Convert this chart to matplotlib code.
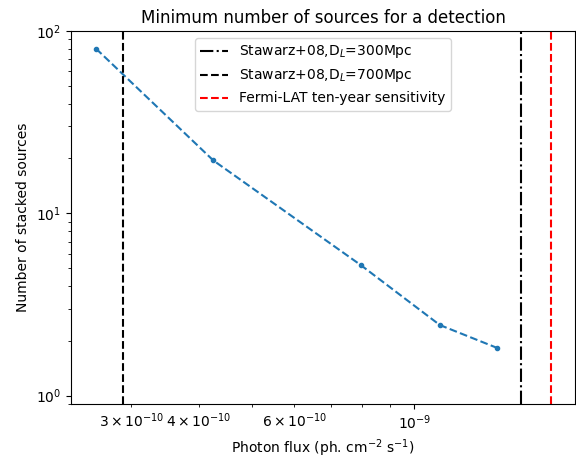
import numpy as np
import matplotlib.pyplot as plt

# data
flux = [2.58e-10, 4.25e-10, 7.96e-10, 1.114e-9, 1.42e-9]
n_sources = [80, 19.5, 5.2, 2.44, 1.83]

stawarz_300 = 1.573e-9
stawarz_700 = 2.89e-10
fermi_10yr = 1.79e-9

fig = plt.figure(figsize=(5.76, 4.61), dpi=100)
ax = fig.add_axes([0.1233, 0.1236, 0.875, 0.8092])

ax.plot(flux, n_sources, '.--', color='C0')
ax.axvline(stawarz_300, color='k', ls='-.', label='Stawarz+08,D$_L$=300Mpc')
ax.axvline(stawarz_700, color='k', ls='--', label='Stawarz+08,D$_L$=700Mpc')
ax.axvline(fermi_10yr, color='r', ls='--', label='Fermi-LAT ten-year sensitivity')

ax.set_xscale('log')
ax.set_yscale('log')
ax.set_xlim(2.32e-10, 1.98e-9)
ax.set_ylim(0.9, 100)

ax.set_xlabel('Photon flux (ph. cm$^{-2}$ s$^{-1}$)')
ax.set_ylabel('Number of stacked sources')
ax.set_title('Minimum number of sources for a detection')
ax.legend(loc='upper center')

fig.savefig('out.png')
